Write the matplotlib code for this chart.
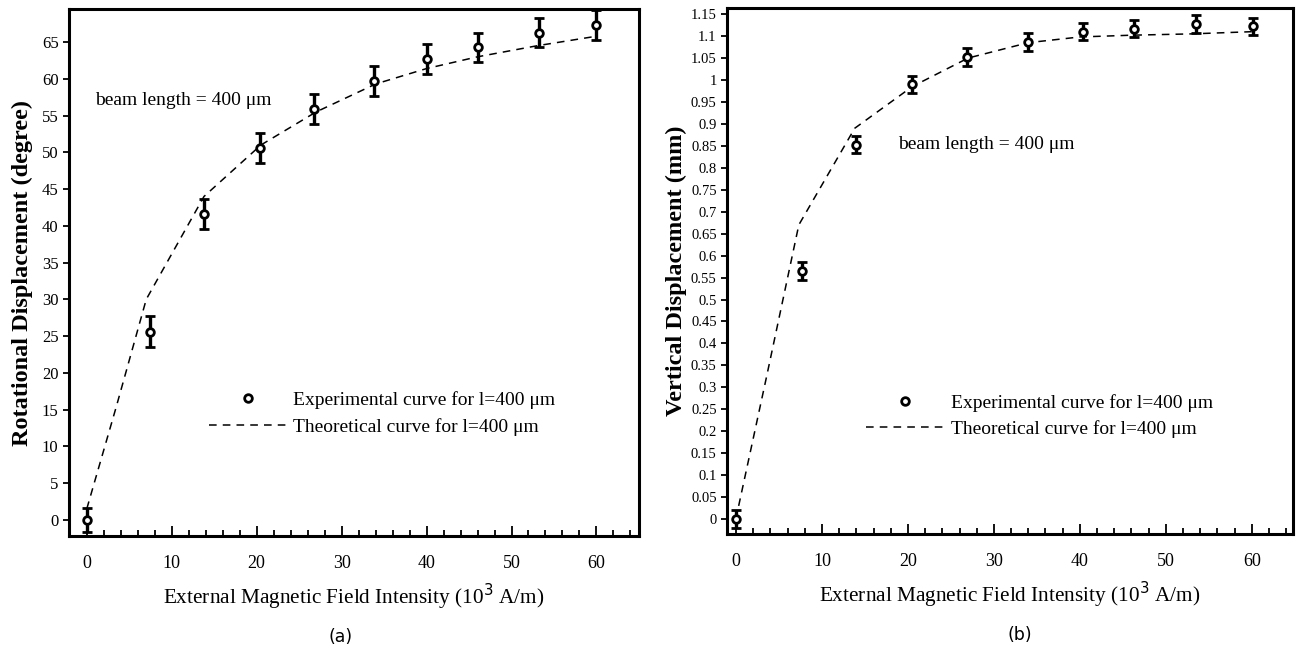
import numpy as np
import matplotlib
matplotlib.use('Agg')
import matplotlib.pyplot as plt
from matplotlib.lines import Line2D
from matplotlib.ticker import MultipleLocator, FuncFormatter

plt.rcParams['font.family'] = ['Liberation Serif', 'DejaVu Serif']

# measured data, panel (a)
xa_exp = [0, 7.5, 13.8, 20.4, 26.7, 33.8, 40.1, 46.1, 53.2, 59.9]
ya_exp = [0, 25.6, 41.6, 50.6, 55.9, 59.7, 62.7, 64.3, 66.3, 67.3]
ya_err = [1.6, 2.1, 2.0, 2.0, 2.0, 2.0, 2.0, 2.0, 2.0, 2.0]
xa_th = [0, 3.5, 7.0, 13.8, 20.5, 27, 34, 40, 46, 53, 60]
ya_th = [1.5, 15.5, 30, 44, 51, 55.5, 59.3, 61.4, 63, 64.5, 65.8]

# measured data, panel (b)
xb_exp = [0, 7.7, 13.9, 20.5, 26.9, 34.0, 40.4, 46.3, 53.5, 60.2]
yb_exp = [0.0, 0.565, 0.853, 0.99, 1.052, 1.087, 1.110, 1.117, 1.128, 1.122]
yb_err = [0.02] * 10
xb_th = [0.3, 3.5, 7.3, 13.8, 20.5, 27, 34, 40, 46, 53, 60]
yb_th = [0.03, 0.32, 0.67, 0.89, 0.985, 1.05, 1.085, 1.098, 1.102, 1.105, 1.11]

exp_label = 'Experimental curve for l=400 \u03bcm'
th_label = 'Theoretical curve for l=400 \u03bcm'
note = 'beam length = 400 \u03bcm'

fig = plt.figure(figsize=(12.96, 6.54), dpi=100)
ax1 = fig.add_axes([0.0532, 0.1804, 0.4398, 0.8058])
ax2 = fig.add_axes([0.561, 0.1835, 0.4367, 0.8043])


def draw(ax, xe, ye, err, xt, yt):
    ax.plot(xt, yt, color='black', lw=1.1, linestyle=(0, (5, 4)))
    ax.errorbar(xe, ye, yerr=err, fmt='o', color='black', mfc='white',
                mec='black', ms=5.5, mew=2, elinewidth=2.4, capsize=3.5,
                capthick=2.4)
    for s in ax.spines.values():
        s.set_linewidth(2.2)
    ax.xaxis.set_major_locator(MultipleLocator(10))
    ax.xaxis.set_minor_locator(MultipleLocator(2))
    ax.tick_params(axis='x', which='major', direction='in', length=7, width=1.3,
                   labelsize=13, pad=14)
    ax.tick_params(axis='x', which='minor', direction='in', length=4, width=1.3)
    ax.tick_params(axis='y', direction='out', length=4, width=1.3, labelsize=12)
    ax.set_xlabel('External Magnetic Field Intensity (10$^3$ A/m)', fontsize=15.3,
                  labelpad=7)


draw(ax1, xa_exp, ya_exp, ya_err, xa_th, ya_th)
ax1.set_xlim(-2.1, 65)
ax1.set_ylim(-2.2, 69.5)
ax1.yaxis.set_major_locator(MultipleLocator(5))
ax1.set_ylabel('Rotational Displacement (degree)', fontsize=17.5, fontweight='bold',
               labelpad=6)
ax1.text(1.0, 57.1, note, fontsize=14, ha='left', va='center')

draw(ax2, xb_exp, yb_exp, yb_err, xb_th, yb_th)
ax2.set_xlim(-1.05, 64.8)
ax2.set_ylim(-0.034, 1.164)
ax2.yaxis.set_major_locator(MultipleLocator(0.05))
ax2.yaxis.set_major_formatter(FuncFormatter(lambda v, p: '%g' % round(v, 2)))
ax2.tick_params(axis='y', labelsize=10.5)
ax2.set_ylabel('Vertical Displacement (mm)', fontsize=17.5, fontweight='bold',
               labelpad=3)
ax2.text(18.8, 0.852, note, fontsize=14, ha='left', va='center')

for ax, x0, y0 in [(ax1, 0.161, 0.402), (ax2, 0.6685, 0.398)]:
    h = [Line2D([], [], marker='o', ls='none', color='black', mfc='white',
                ms=5.5, mew=2),
         Line2D([], [], color='black', lw=1.1, linestyle=(0, (5, 4)))]
    fig.legend(h, [exp_label, th_label], loc='upper left',
               bbox_to_anchor=(x0, y0), frameon=False, fontsize=14,
               borderpad=0, borderaxespad=0, handlelength=4.0,
               handletextpad=0.35, labelspacing=0.45)

fig.text(0.2625, 0.018, '(a)', fontsize=12.5, family='DejaVu Sans', ha='center')
fig.text(0.787, 0.022, '(b)', fontsize=12.5, family='DejaVu Sans', ha='center')

fig.savefig('out.png', dpi=100)
